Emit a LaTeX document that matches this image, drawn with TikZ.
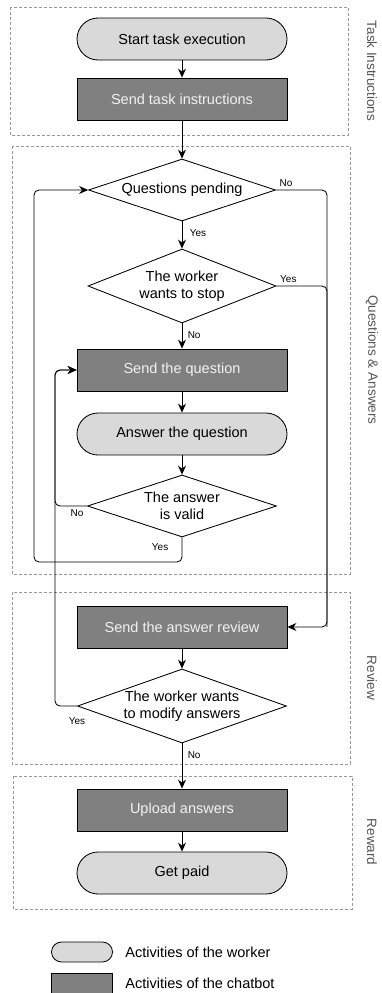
\documentclass[tikz,border=0pt]{standalone}
\usepackage{fontspec}
\setmainfont{Liberation Sans}
\usepackage{tikz}
\usetikzlibrary{arrows.meta}
\usetikzlibrary{shapes.geometric}

\definecolor{workerfill}{HTML}{D9D9D9}
\definecolor{botfill}{HTML}{808080}
\definecolor{groupgray}{HTML}{999999}
\definecolor{labelgray}{HTML}{555555}

\begin{document}
\begin{tikzpicture}[x=1pt, y=-1pt, line width=0.85pt,
	worker/.style={draw, fill=workerfill, rounded corners=21pt, minimum width=210pt, minimum height=42pt, font=\fontsize{14.5}{16.5}\selectfont},
	chatbot/.style={draw, fill=botfill, text=white!95!black, minimum width=210pt, minimum height=42pt, font=\fontsize{14.5}{16.5}\selectfont},
	decision/.style={draw, fill=white, shape=diamond, inner sep=0pt, align=center, font=\fontsize{14.5}{16.5}\selectfont},
	groupbox/.style={draw=groupgray, dash pattern=on 3pt off 2pt, line width=0.6pt},
	grouplabel/.style={rotate=-90, text=labelgray, font=\fontsize{13.5}{16}\selectfont},
	yn/.style={font=\fontsize{10}{12}\selectfont},
	arr/.style={-{Stealth[length=9pt, width=8pt, inset=3pt]}, rounded corners=5pt}]
	\useasboundingbox (0,0) rectangle (381,993);

	% phases
	\draw[groupbox] (10,7) rectangle (348,135);
	\draw[groupbox] (12,146) rectangle (350,574);
	\draw[groupbox] (12,592) rectangle (350,764);
	\draw[groupbox] (13,776) rectangle (352,909);
	\node[grouplabel] (lbltask) at (372,71) {Task Instructions};
	\node[grouplabel] (lblqa) at (372,360) {Questions \& Answers};
	\node[grouplabel] (lblreview) at (372,678) {Review};
	\node[grouplabel] (lblreward) at (372,842) {Reward};

	% flow
	\node[worker] (start) at (182,39) {Start task execution};
	\node[chatbot] (sendinstr) at (182,99) {Send task instructions};
	\node[decision, minimum width=187pt, minimum height=62pt, aspect=3] (qpend) at (182,190) {Questions pending};
	\node[decision, minimum width=188pt, minimum height=74pt, aspect=2.5] (wstop) at (182,286) {The worker\\wants to stop};
	\node[chatbot] (sendq) at (182,370) {Send the question};
	\node[worker] (answer) at (182,434) {Answer the question};
	\node[decision, minimum width=189pt, minimum height=62pt, aspect=3] (valid) at (182,506) {The answer\\is valid};
	\node[chatbot] (review) at (182,627) {Send the answer review};
	\node[decision, minimum width=209pt, minimum height=74pt, aspect=2.8] (modify) at (182,706) {The worker wants\\to modify answers};
	\node[chatbot] (upload) at (182,810) {Upload answers};
	\node[worker] (paid) at (182,873) {Get paid};

	\coordinate (rturn) at (327,627);
	\coordinate (lturn) at (55,370);
	\coordinate (yloop) at (34,562);

	\path[arr]
	(start) edge (sendinstr)
	(sendinstr) edge (qpend)
	(qpend) edge node[yn, right, pos=0.43, xshift=4pt] {Yes} (wstop)
	(wstop) edge node[yn, right, pos=0.45, xshift=2pt] {No} (sendq)
	(sendq) edge (answer)
	(answer) edge (valid)
	(review) edge (modify)
	(modify) edge node[yn, right, pos=0.25, xshift=2pt] {No} (upload)
	(upload) edge (paid);

	\draw[arr] (qpend.east) node[yn, above right] {No} -| (rturn) -- (review.east);
	\draw[rounded corners=5pt] (wstop.east) node[yn, above right] {Yes} -| (rturn);
	\draw[arr] (valid.west) node[yn, below left] {No} -| (lturn) -- (sendq.west);
	\draw[arr] (modify.west) node[yn, below, yshift=-8pt] {Yes} -| (lturn) -- (sendq.west);
	\draw[arr] (valid.south) node[yn, below left, xshift=-10pt, yshift=-2pt] {Yes} |- (yloop) |- (qpend.west);

	% legend
	\node[worker, minimum width=61pt, minimum height=20pt, rounded corners=10pt] (legworker) at (82,952) {};
	\node[chatbot, minimum width=61pt, minimum height=20pt] (legbot) at (82,983) {};
	\node[anchor=west, font=\fontsize{14.5}{16.5}\selectfont, inner sep=0pt] (legworkertxt) at (125,952) {Activities of the worker};
	\node[anchor=west, font=\fontsize{14.5}{16.5}\selectfont, inner sep=0pt] (legbottxt) at (125,983) {Activities of the chatbot};
\end{tikzpicture}
\end{document}
